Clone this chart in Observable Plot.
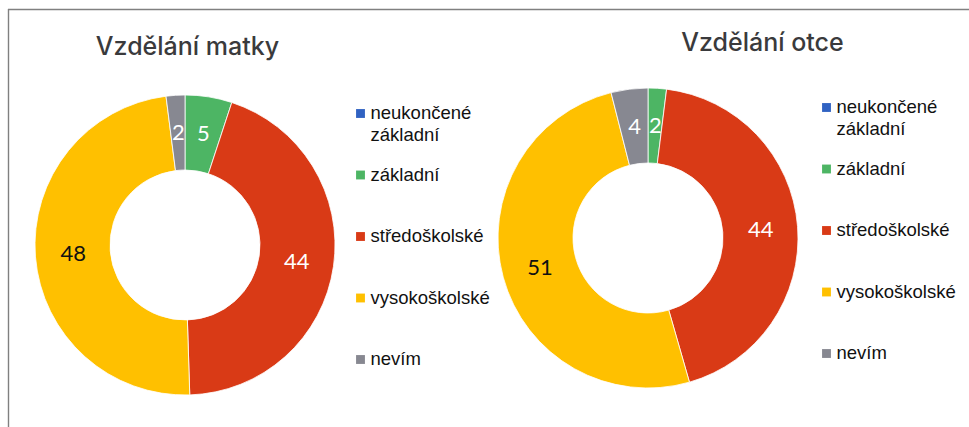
<!DOCTYPE html>
<html>
<head>
<meta charset="utf-8">
<script src="https://cdn.jsdelivr.net/npm/d3@7"></script>
<script src="https://cdn.jsdelivr.net/npm/@observablehq/plot@0.6"></script>
<style>
  html, body { margin: 0; padding: 0; background: #fff; }
  #chart svg { display: block; }
</style>
</head>
<body>
<div id="chart"></div>
<script>
// ---- data ----
const categories = ["neukončené základní", "základní", "středoškolské", "vysokoškolské", "nevím"];
const legendLines = [["neukončené", "základní"], ["základní"], ["středoškolské"], ["vysokoškolské"], ["nevím"]];
const motherValues = [0, 5, 44, 48, 2];
const fatherValues = [0, 2, 44, 51, 4];
const chartTitles = ["Vzdělání matky", "Vzdělání otce"];
const colors = ["#3062C2", "#4DB564", "#D93A16", "#FFC000", "#878891"];
const labelColors = ["#ffffff", "#ffffff", "#ffffff", "#111111", "#ffffff"];

// ---- layout ----
const W = 969, H = 427;
const charts = [
  {title: chartTitles[0], values: motherValues, cx: 185, cy: 245, tx: 187, ty: 46, lx: 360, ly: 113},
  {title: chartTitles[1], values: fatherValues, cx: 648, cy: 238, tx: 762, ty: 42, lx: 826, ly: 107}
];
const R_OUT = 150, R_IN = 75, R_LABEL = 112.5, ROW = 61.5;

const pie = d3.pie().sort(null).value(d => d.value);
const slices = [];
charts.forEach((c, ci) => {
  const arcs = pie(c.values.map((v, i) => ({value: v, i})));
  arcs.forEach((a, i) => {
    const mid = (a.startAngle + a.endAngle) / 2;
    slices.push({
      chart: ci, i, value: a.data.value, startAngle: a.startAngle, endAngle: a.endAngle,
      cx: c.cx, cy: c.cy,
      lxp: c.cx + R_LABEL * Math.sin(mid), lyp: c.cy - R_LABEL * Math.cos(mid)
    });
  });
});

const legendMarks = [];
const legendTexts = [];
charts.forEach(c => {
  categories.forEach((cat, i) => {
    const y = c.ly + i * ROW;
    legendMarks.push({x: c.lx, y, color: colors[i]});
    legendLines[i].forEach((line, k) => legendTexts.push({x: c.lx + 10, y: y + k * 22, text: line}));
  });
});

function donuts(index, scales) {
  const g = d3.create("svg:g");
  for (const s of slices) {
    const r0 = scales.x(s.cx + R_IN) - scales.x(s.cx);
    const r1 = scales.x(s.cx + R_OUT) - scales.x(s.cx);
    const arc = d3.arc().innerRadius(r0).outerRadius(r1);
    g.append("path")
      .attr("transform", `translate(${scales.x(s.cx)},${scales.y(s.cy)})`)
      .attr("d", arc({startAngle: s.startAngle, endAngle: s.endAngle}))
      .attr("fill", colors[s.i])
      .attr("stroke", s.value > 0 ? "#ffffff" : "none")
      .attr("stroke-width", 0.8);
  }
  return g.node();
}

const plot = Plot.plot({
  width: W, height: H,
  margin: 0,
  x: {domain: [0, W], range: [0, W], axis: null},
  y: {domain: [0, H], range: [0, H], axis: null},
  marks: [
    Plot.ruleY([9], {x1: 8, x2: W, stroke: "#808080", strokeWidth: 1.4}),
    Plot.ruleX([8], {y1: 9, y2: H, stroke: "#808080", strokeWidth: 1.4}),
    donuts,
    Plot.text(slices.filter(d => d.value > 0), {
      x: "lxp", y: "lyp", text: d => String(d.value),
      fill: d => labelColors[d.i], fontSize: 22, fontFamily: "Lato, 'Open Sans', sans-serif"
    }),
    Plot.text(charts, {
      x: "tx", y: "ty", text: "title", fontSize: 25, fill: "#3a3a3c", fontWeight: 500,
      fontFamily: "Inter, Lato, 'Open Sans', sans-serif", textAnchor: "middle"
    }),
    Plot.dot(legendMarks, {x: "x", y: "y", fill: "color", symbol: "square", r: 5}),
    Plot.text(legendTexts, {
      x: "x", y: "y", text: "text", textAnchor: "start", fontSize: 18.5, fill: "#111111",
      fontFamily: "'Liberation Sans', Arial, sans-serif"
    })
  ]
});
document.getElementById("chart").append(plot);
</script>
</body>
</html>
